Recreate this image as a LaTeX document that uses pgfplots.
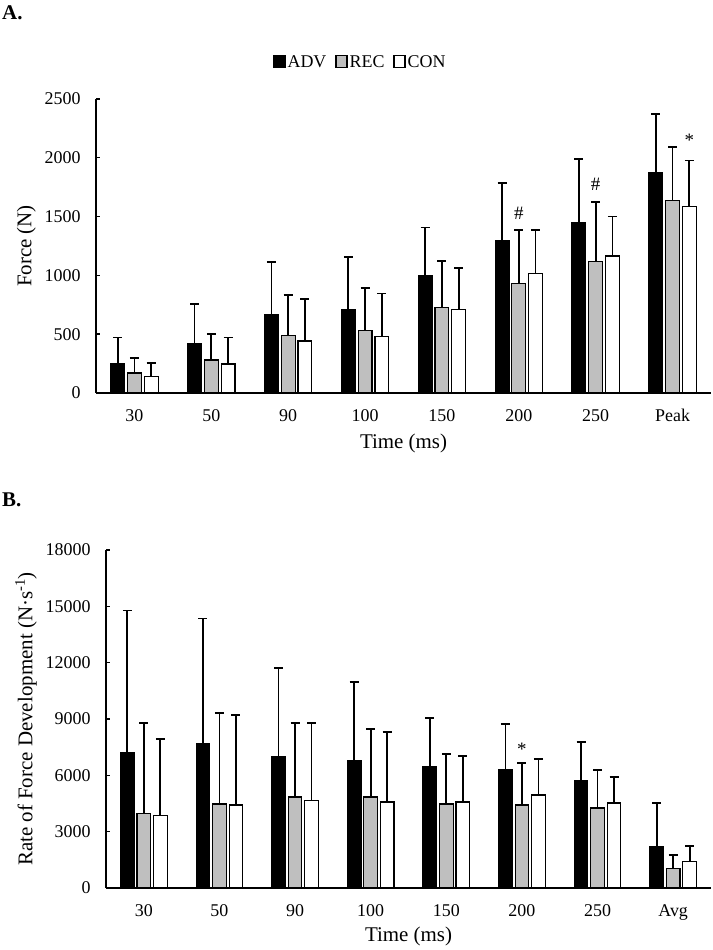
\documentclass[border=0pt]{standalone}
\usepackage{fontspec}
\setmainfont{Liberation Serif}
\usepackage{pgfplots}
\pgfplotsset{compat=1.18}
\usepackage{pgfplotstable}

\pgfplotstableread{
x adv advE rec recE con conE
0 247 226 170 125 142 113
1 417 340 281 221 247 226
2 663 448 490 343 442 360
3 711 443 533 357 482 365
4 995 411 728 392 711 349
5 1293 490 933 453 1018 368
6 1451 536 1120 504 1165 337
7 1871 499 1638 454 1587 391
}\dataA

\pgfplotstableread{
x adv advE rec recE con conE
0 7204 7575 3947 4832 3841 4088
1 7681 6673 4478 4832 4425 4779
2 6973 4726 4850 3929 4655 4124
3 6779 4177 4850 3610 4584 3717
4 6460 2602 4478 2672 4584 2443
5 6301 2425 4425 2248 4956 1911
6 5717 2053 4265 2018 4531 1381
7 2212 2319 1027 743 1398 850
}\dataB

\definecolor{recgray}{HTML}{BFBFBF}

\pgfplotsset{
  common/.style={
    scale only axis,
    anchor=south west,
    xmin=-0.5, xmax=7.5,
    ymin=0,
    xtick={0,...,7},
    axis x line*=bottom, axis y line*=left,
    axis line style={line width=1.6bp, -},
    x tick style={draw=none},
    y tick style={line width=1.4bp, black},
    tick align=inside,
    major tick length=4bp,
    tick label style={font=\fontsize{18}{21}\selectfont},
    xticklabel style={yshift=-9bp},
    yticklabel style={xshift=-12bp},
    label style={font=\fontsize{21}{24}\selectfont},
    ylabel style={yshift=2bp},
    /pgf/number format/assume math mode=true,
    /pgf/number format/1000 sep={},
    scaled y ticks=false,
    ybar, bar width=0.18,
    error bars/y dir=plus, error bars/y explicit,
    error bars/error bar style={line width=1.7bp, black},
    error bars/error mark options={rotate=90, line width=1.7bp, mark size=4.5bp, black},
    clip=false,
  },
  advS/.style={fill=black, draw=black, line width=1.2bp, bar shift=-0.218},
  recS/.style={fill=recgray, draw=black, line width=1.2bp, bar shift=0},
  conS/.style={fill=white, draw=black, line width=1.2bp, bar shift=0.218},
}

\begin{document}
\begin{tikzpicture}
\path[use as bounding box] (0,0) rectangle (713bp,950bp);

\node[anchor=north west, font=\fontsize{21}{24}\selectfont\bfseries, inner sep=0pt] at (2bp,944bp) {A.};
\node[anchor=north west, font=\fontsize{21}{24}\selectfont\bfseries, inner sep=0pt] at (2bp,457bp) {B.};

\begin{axis}[common,
  at={(96bp,557bp)}, width=615bp, height=294bp,
  ymax=2500, ytick={0,500,...,2500},
  xticklabels={30,50,90,100,150,200,250,Peak},
  xlabel={Time (ms)}, ylabel={Force (N)},
  xlabel style={yshift=-5bp},
  legend columns=3,
  legend style={draw=none, at={(0.43,1.126)}, anchor=center,
    font=\fontsize{18}{21}\selectfont, inner sep=0pt,
    /tikz/every even column/.append style={column sep=7bp}},
  legend image code/.code={\draw[#1, line width=1.2bp] (0bp,-5.5bp) rectangle (11bp,6.5bp);},
]
\addplot[advS] table[x=x, y=adv, y error=advE] {\dataA};
\addplot[recS] table[x=x, y=rec, y error=recE] {\dataA};
\addplot[conS] table[x=x, y=con, y error=conE] {\dataA};
\legend{ADV, REC, CON}
\node[font=\fontsize{19}{21}\selectfont] at (axis cs:5,1530) {\#};
\node[font=\fontsize{19}{21}\selectfont] at (axis cs:6,1771) {\#};
\node[font=\fontsize{19}{21}\selectfont] at (axis cs:7.218,2150) {*};
\end{axis}

\begin{axis}[common,
  at={(106bp,62bp)}, width=605bp, height=338bp,
  ymax=18000, ytick={0,3000,...,18000},
  xticklabels={30,50,90,100,150,200,250,Avg},
  xlabel={Time (ms)}, ylabel={Rate of Force Development (N·s\textsuperscript{-1})},
]
\addplot[advS] table[x=x, y=adv, y error=advE] {\dataB};
\addplot[recS] table[x=x, y=rec, y error=recE] {\dataB};
\addplot[conS] table[x=x, y=con, y error=conE] {\dataB};
\node[font=\fontsize{19}{21}\selectfont] at (axis cs:5,7400) {*};
\end{axis}
\end{tikzpicture}
\end{document}
